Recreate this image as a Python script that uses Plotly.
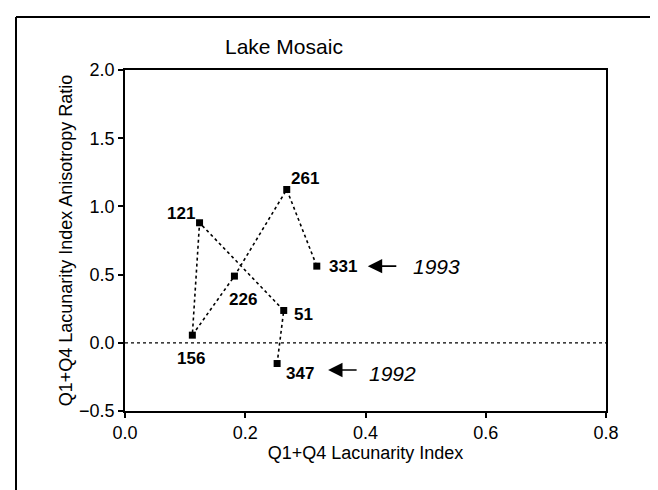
import plotly.graph_objects as go

# Data (day-of-year labels, in chronological order along the path)
day_labels = ["347", "51", "121", "156", "226", "261", "331"]
lacunarity = [0.253, 0.264, 0.124, 0.112, 0.182, 0.269, 0.319]
anisotropy = [-0.152, 0.237, 0.880, 0.056, 0.489, 1.124, 0.562]

x_ticks = [0.0, 0.2, 0.4, 0.6, 0.8]
y_ticks = [-0.5, 0.0, 0.5, 1.0, 1.5, 2.0]

year_labels = {"331": "1993", "347": "1992"}

FONT = "Liberation Sans, Arial, Helvetica, sans-serif"

fig = go.Figure()
fig.add_trace(go.Scatter(
    x=lacunarity, y=anisotropy, mode="lines+markers",
    line=dict(color="black", width=1.6, dash="dot"),
    marker=dict(symbol="square", size=7, color="black"),
    showlegend=False, hoverinfo="skip",
))

# label offsets in pixels (dx right, dy down)
label_offsets = {
    "121": (-19, -9.5), "261": (18.5, -10.5), "331": (26.5, 0),
    "226": (9, 23), "51": (20, 4), "156": (-1, 23), "347": (23, 9.5),
}
annotations = []
for lab, xv, yv in zip(day_labels, lacunarity, anisotropy):
    dx, dy = label_offsets[lab]
    annotations.append(dict(
        x=xv, y=yv, xref="x", yref="y", text="<b>%s</b>" % lab,
        showarrow=False, xshift=dx, yshift=-dy,
        font=dict(family=FONT, size=17, color="black"),
    ))

year_offsets = {"331": (0, 120, 0), "347": (6.5, 115, 10)}
for lab, xv, yv in zip(day_labels, lacunarity, anisotropy):
    if lab in year_labels:
        ady, tdx, tdy = year_offsets[lab]
        annotations.append(dict(
            x=xv, y=yv, xref="x", yref="y", text="",
            showarrow=True, xshift=51, yshift=-ady, ax=30, ay=0,
            arrowhead=2, arrowsize=1.8, arrowwidth=1.6, arrowcolor="black",
        ))
        annotations.append(dict(
            x=xv, y=yv, xref="x", yref="y", text="<i>%s</i>" % year_labels[lab],
            showarrow=False, xshift=tdx, yshift=-tdy,
            font=dict(family=FONT, size=21, color="black"),
        ))

# title
annotations.append(dict(
    x=(215 - 117) / 481, y=(403 - 38) / 341, xref="paper", yref="paper",
    xanchor="left", yanchor="middle", text="Lake Mosaic", showarrow=False,
    font=dict(family=FONT, size=21, color="black"),
))

shapes = [
    dict(type="line", xref="paper", yref="y", x0=0, x1=1, y0=0, y1=0,
         line=dict(color="black", width=1.2, dash="dot")),
    # outer frame (top and left edges visible)
    dict(type="line", xref="paper", yref="paper",
         x0=(8 - 117) / 481, x1=(670 - 117) / 481,
         y0=(403 - 9) / 341, y1=(403 - 9) / 341,
         line=dict(color="black", width=2)),
    dict(type="line", xref="paper", yref="paper",
         x0=(8 - 117) / 481, x1=(8 - 117) / 481,
         y0=(403 - 9) / 341, y1=(403 - 500) / 341,
         line=dict(color="black", width=2)),
]

fig.update_layout(
    width=658, height=490,
    margin=dict(l=117, r=60, t=62, b=87, autoexpand=False),
    paper_bgcolor="white", plot_bgcolor="white",
    font=dict(family=FONT, size=18, color="black"),
    annotations=annotations, shapes=shapes,
    xaxis=dict(
        range=[0, 0.8], tickvals=x_ticks, tickformat=".1f",
        showgrid=False, zeroline=False, showline=True, linecolor="black",
        linewidth=1.7, mirror=True, ticks="outside", ticklen=5, tickwidth=1.5,
        tickcolor="black", tickfont=dict(family=FONT, size=18),
        title=dict(text="Q1+Q4 Lacunarity Index", font=dict(family=FONT, size=18), standoff=4),
        automargin=False,
    ),
    yaxis=dict(
        range=[-0.5, 2.0], tickvals=y_ticks, tickformat=".1f",
        showgrid=False, zeroline=False, showline=True, linecolor="black",
        linewidth=1.7, mirror=True, ticks="outside", ticklen=5, tickwidth=1.5,
        tickcolor="black", tickfont=dict(family=FONT, size=18),
        title=dict(text="Q1+Q4 Lacunarity Index Anisotropy Ratio",
                   font=dict(family=FONT, size=18), standoff=2),
        automargin=False,
    ),
)

fig.write_html("out.html")
